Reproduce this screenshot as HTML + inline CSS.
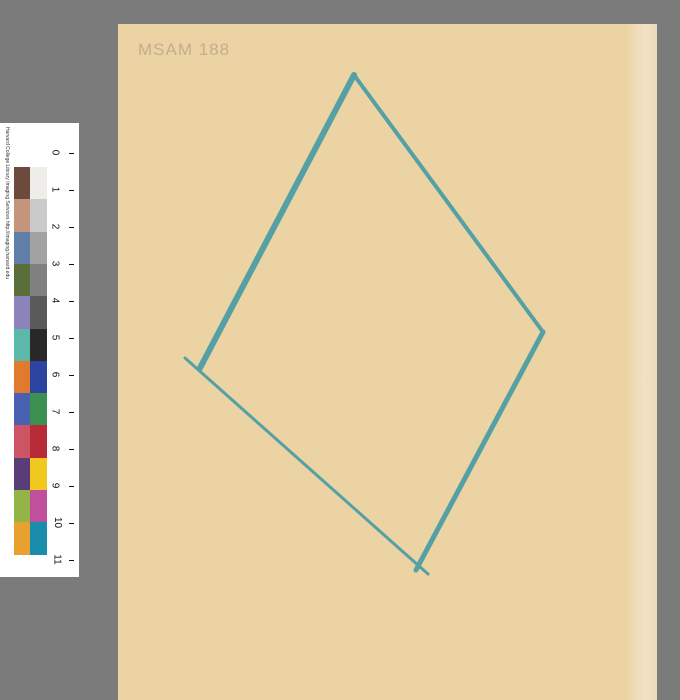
<!DOCTYPE html>
<html><head><meta charset="utf-8"><style>
html,body{margin:0;padding:0}
body{width:680px;height:700px;background:#7b7b7b;position:relative;overflow:hidden;font-family:"Liberation Sans",sans-serif}
</style></head><body>
<div style="position:absolute;left:118px;top:24px;width:539px;height:676px;background:#ebd3a3"></div>
<div style="position:absolute;left:626px;top:24px;width:31px;height:676px;background:linear-gradient(90deg,#ebd3a3,#f2e2c6 60%,#ead9bb)"></div>
<div style="position:absolute;left:138px;top:40px;font-size:17px;color:#c4ad92;letter-spacing:1px;font-family:'Liberation Sans',sans-serif">MSAM 188</div>
<svg width="680" height="700" style="position:absolute;left:0;top:0">
<g stroke="#3a98a6" stroke-linecap="round" fill="none" opacity="0.85">
<line x1="354" y1="75" x2="200" y2="368" stroke-width="6"/>
<line x1="354" y1="75" x2="543" y2="332" stroke-width="4"/>
<line x1="543" y1="332" x2="416" y2="570" stroke-width="5"/>
<line x1="185" y1="358" x2="428" y2="574" stroke-width="3"/>
</g></svg>
<div style="position:absolute;left:0;top:123px;width:79px;height:454px;background:#fff">
<div style="position:absolute;left:0;top:4px;width:10px;height:440px;writing-mode:vertical-rl;font-size:5px;color:#333">Harvard College Library Imaging Services http://imaging.harvard.edu</div>
<div id="sw" style="position:absolute;left:14px;top:44px"></div>
<div id="ru" style="position:absolute;left:52px;top:0"></div>
</div>
<script>
var L=["#6e4a3c","#c4947c","#5f7fa8","#5a6e3c","#8e84bc","#5cb8a8","#e07a2c","#4a60b0","#cc5464","#5a3c78","#94b448","#e8a030"];
var R=["#efede9","#cacaca","#a2a2a2","#808080","#5a5a5a","#282828","#2a44a0","#3c9050","#b82c38","#f0c820","#c0509c","#1a8cac"];
var sw=document.getElementById('sw');
for(var i=0;i<12;i++){
 var a=document.createElement('div');a.style.cssText='position:absolute;left:0;top:'+(i*32.3)+'px;width:16px;height:33px;background:'+L[i];
 
 
 sw.appendChild(a);
 var b=document.createElement('div');b.style.cssText='position:absolute;left:16px;top:'+(i*32.3)+'px;width:17px;height:33px;background:'+R[i];
 
 
 sw.appendChild(b);
}
var ru=document.getElementById('ru');
for(var n=0;n<=11;n++){
 var t=document.createElement('div');t.textContent=n;t.style.cssText='position:absolute;left:0;top:'+(24+n*37)+'px;font-size:10px;transform:rotate(90deg);color:#111';
 
 
 ru.appendChild(t);
 var k=document.createElement('div');k.style.cssText='position:absolute;left:17px;top:'+(30+n*37)+'px;width:5px;height:1px;background:#111';
 
 
 ru.appendChild(k);
}
</script>
</body></html>
